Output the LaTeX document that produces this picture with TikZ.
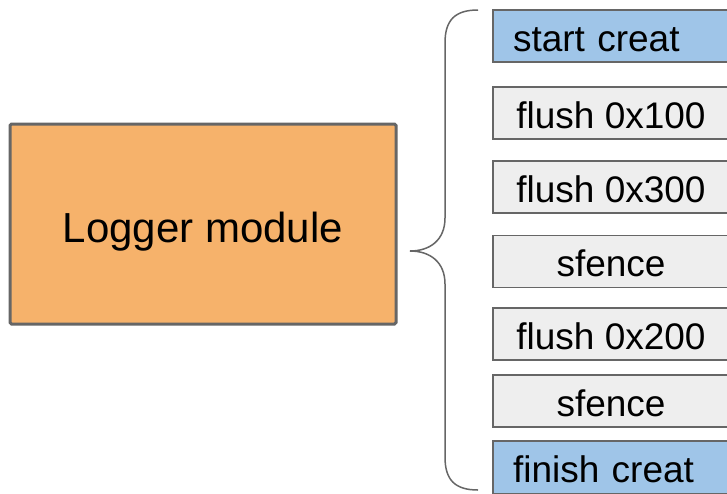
\documentclass[tikz,border=0pt]{standalone}
\usepackage{fontspec}
\setmainfont{Liberation Sans}
\definecolor{loggerfill}{HTML}{F6B26B}
\definecolor{stepblue}{HTML}{9FC5E8}
\definecolor{stepgray}{HTML}{EEEEEE}
\definecolor{edgegray}{HTML}{666666}
\begin{document}
\begin{tikzpicture}[x=1pt,y=-1pt,
  module/.style={draw=edgegray, line width=3pt, fill=loggerfill, rounded corners=1.5pt,
    minimum width=386pt, minimum height=200pt, inner sep=0pt,
    text height=36pt, text depth=0pt,
    font=\fontsize{42}{50}\selectfont},
  opbox/.style={draw=edgegray, line width=1.5pt, fill=stepgray,
    minimum width=236pt, minimum height=52pt, inner sep=0pt,
    text height=30pt, text depth=0pt,
    font=\fontsize{37}{44}\selectfont},
  markbox/.style={opbox, fill=stepblue, text width=196pt, align=left, inner xsep=20pt},
  brace/.style={draw=edgegray, line width=1.5pt}]
\useasboundingbox (0,0) rectangle (727,493);
\fill[white] (0,0) rectangle (727,493);

\node[module] (logger) at (203,224) {Logger module};

\node[markbox] (s1) at (611,36)    {start creat};
\node[opbox]   (s2) at (611,113)   {flush 0x100};
\node[opbox]   (s3) at (611,187)   {flush 0x300};
\node[opbox]   (s4) at (611,261.5) {sfence};
\node[opbox]   (s5) at (611,334)   {flush 0x200};
\node[opbox]   (s6) at (611,401)   {sfence};
\node[markbox,minimum height=53pt] (s7) at (611,467.5) {finish creat};

% curly brace grouping the operations
\coordinate (btop) at (478,10);
\coordinate (btip) at (410,251);
\coordinate (bbot) at (478,490);
\draw[brace] (btop) .. controls (455,10) and (445,20) .. (445,43)
  -- (445,218) .. controls (445,240) and (430,251) .. (btip)
  .. controls (430,251) and (445,262) .. (445,284)
  -- (445,457) .. controls (445,480) and (455,490) .. (bbot);
\end{tikzpicture}
\end{document}
